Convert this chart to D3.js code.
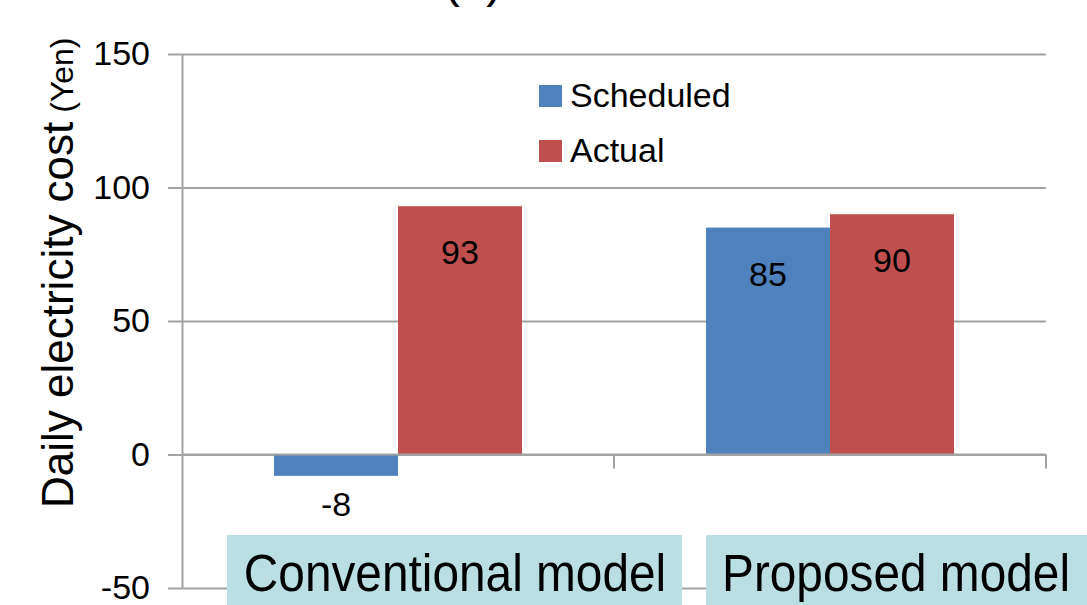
<!DOCTYPE html>
<html>
<head>
<meta charset="utf-8">
<script src="https://cdn.jsdelivr.net/npm/d3@7"></script>
<style>
  html, body { margin: 0; padding: 0; background: #fff; }
  svg { display: block; font-family: "Liberation Sans", Arial, sans-serif; }
</style>
</head>
<body>
<svg id="chart" width="1087" height="605"></svg>
<script>
// Daily electricity cost per model, scheduled vs. actual (Yen)
const categories = ["Conventional model", "Proposed model"];
const seriesNames = ["Scheduled", "Actual"];
const scheduled = [-8, 85];
const actual = [93, 90];
const yTicks = [-50, 0, 50, 100, 150];
const yDomain = [-50, 150];

const seriesColors = { Scheduled: "#4f81bd", Actual: "#c0504d" };
const gridColor = "#a3a3a3";

const svg = d3.select("#chart");
const plot = { left: 182, right: 1046, top: 54, bottom: 588 };

const y = d3.scaleLinear().domain(yDomain).range([plot.bottom, plot.top]);
const x0 = d3.scaleBand().domain(categories).range([plot.left, plot.right]);
const x1 = d3.scaleBand().domain(seriesNames).range([0, x0.bandwidth()])
  .paddingInner(0).paddingOuter(0.742);

// panel title, mostly above the top edge
svg.append("text")
  .attr("x", 473).attr("y", -3)
  .attr("text-anchor", "middle")
  .attr("font-size", 48)
  .attr("fill", "#000")
  .text("(a)");

// horizontal gridlines
const grid = svg.append("g")
  .attr("transform", `translate(${plot.left},0)`)
  .call(d3.axisLeft(y).tickValues(yTicks).tickSize(-(plot.right - plot.left)).tickFormat(""));
grid.select(".domain").remove();
grid.selectAll(".tick line").attr("stroke", gridColor).attr("stroke-width", 2);

// value axis
const yAxis = svg.append("g")
  .attr("transform", `translate(${plot.left},0)`)
  .call(d3.axisLeft(y).tickValues(yTicks).tickSize(14).tickPadding(18).tickSizeOuter(0)
    .tickFormat(d => String(d)));
yAxis.select(".domain").attr("stroke", gridColor).attr("stroke-width", 2);
yAxis.selectAll(".tick line").attr("stroke", gridColor).attr("stroke-width", 2);
yAxis.selectAll(".tick text")
  .attr("font-size", 34)
  .attr("fill", "#000")
  .attr("font-family", "'Liberation Sans', Arial, sans-serif");

// bars
const rows = categories.map((c, i) => ({
  category: c,
  values: [
    { key: "Scheduled", value: scheduled[i] },
    { key: "Actual", value: actual[i] }
  ]
}));

const groups = svg.append("g").selectAll("g")
  .data(rows)
  .join("g")
  .attr("transform", d => `translate(${x0(d.category)},0)`);

groups.selectAll("rect")
  .data(d => d.values)
  .join("rect")
  .attr("x", d => x1(d.key))
  .attr("width", x1.bandwidth())
  .attr("y", d => y(Math.max(0, d.value)))
  .attr("height", d => Math.abs(y(d.value) - y(0)))
  .attr("fill", d => seriesColors[d.key]);

// data labels
groups.selectAll("text.value")
  .data(d => d.values)
  .join("text")
  .attr("class", "value")
  .attr("x", d => x1(d.key) + x1.bandwidth() / 2)
  .attr("y", d => d.value >= 0 ? y(d.value) + 46 : y(d.value) + 28)
  .attr("dy", "0.36em")
  .attr("text-anchor", "middle")
  .attr("font-size", 34)
  .attr("fill", "#000")
  .text(d => String(d.value));

// category axis along zero
svg.append("line")
  .attr("x1", plot.left).attr("x2", plot.right)
  .attr("y1", y(0)).attr("y2", y(0))
  .attr("stroke", gridColor).attr("stroke-width", 2);
svg.append("g").selectAll("line")
  .data(categories)
  .join("line")
  .attr("x1", d => x0(d) + x0.bandwidth())
  .attr("x2", d => x0(d) + x0.bandwidth())
  .attr("y1", y(0)).attr("y2", y(0) + 14)
  .attr("stroke", gridColor).attr("stroke-width", 2);

// category labels on shaded boxes (box offset relative to the label centre)
const labelLayout = [
  { dx: 57, boxLeft: -228, boxWidth: 455 },
  { dx: 66, boxLeft: -190, boxWidth: 400 }
];
const catLabels = svg.append("g").selectAll("g")
  .data(categories)
  .join("g")
  .attr("transform", (d, i) => `translate(${x0(d) + x0.bandwidth() / 2 + labelLayout[i].dx},0)`);
catLabels.append("rect")
  .attr("x", (d, i) => labelLayout[i].boxLeft)
  .attr("width", (d, i) => labelLayout[i].boxWidth)
  .attr("y", 535)
  .attr("height", 75)
  .attr("fill", "#b9dfe3");
catLabels.append("text")
  .attr("transform", "translate(0,591) scale(1,1.1)")
  .attr("text-anchor", "middle")
  .attr("font-size", 47.8)
  .attr("fill", "#000")
  .text(d => d);

// axis title
const title = svg.append("text")
  .attr("transform", "translate(73,508) rotate(-90)")
  .attr("text-anchor", "start")
  .attr("fill", "#000");
title.append("tspan").attr("font-size", 44).text("Daily electricity cost");
title.append("tspan").attr("font-size", 32).text(" (Yen)");

// legend
const legend = svg.append("g").selectAll("g")
  .data(seriesNames)
  .join("g")
  .attr("transform", (d, i) => `translate(539,${85 + i * 55})`);
legend.append("rect")
  .attr("width", 23).attr("height", 22)
  .attr("fill", d => seriesColors[d]);
legend.append("text")
  .attr("x", 31).attr("y", 22)
  .attr("font-size", 34)
  .attr("fill", "#000")
  .text(d => d);
</script>
</body>
</html>
